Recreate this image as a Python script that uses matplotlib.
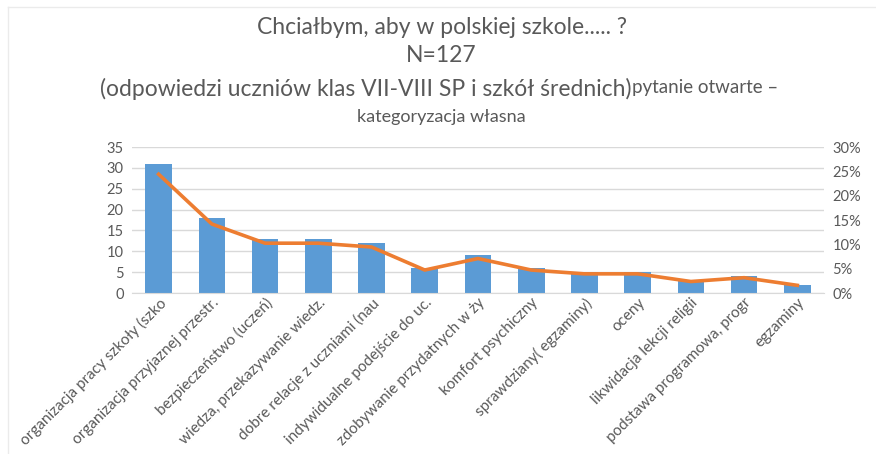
import matplotlib
matplotlib.use("Agg")
import matplotlib.pyplot as plt
from matplotlib.ticker import PercentFormatter

plt.rcParams['font.family'] = ['Lato', 'DejaVu Sans']

# data
categories = [
    "organizacja pracy szkoły (szko",
    "organizacja przyjaznej przestr.",
    "bezpieczeństwo (uczeń)",
    "wiedza, przekazywanie wiedz.",
    "dobre relacje z uczniami (nau",
    "indywidualne podejście do uc.",
    "zdobywanie przydatnych w ży",
    "komfort psychiczny",
    "sprawdziany( egzaminy)",
    "oceny",
    "likwidacja lekcji religii",
    "podstawa programowa, progr",
    "egzaminy",
]
counts = [31, 18, 13, 13, 12, 6, 9, 6, 5, 5, 3, 4, 2]
n_total = 127
shares = [c / n_total for c in counts]

txt = '#595959'
grid = '#D9D9D9'

fig = plt.figure(figsize=(8.76, 4.54), dpi=100)
ax = fig.add_axes([0.1507, 0.3546, 0.7899, 0.3216])
x = range(len(categories))
ax.bar(x, counts, width=0.5, color='#5B9BD5', zorder=2)
ax.set_ylim(0, 35)
ax.set_yticks(range(0, 36, 5))
ax.set_xlim(-0.5, len(categories) - 0.5)
ax.grid(axis='y', color=grid, linewidth=1, zorder=0)
for s in ['top', 'left', 'right']:
    ax.spines[s].set_visible(False)
ax.spines['bottom'].set_color(grid)
ax.tick_params(axis='both', length=0, colors=txt, labelsize=10.5)
ax.tick_params(axis='y', pad=6)
ax.tick_params(axis='x', pad=2)
ax.set_xticks(list(x))
ax.set_xticklabels(categories, rotation=45, ha='right', va='top',
                   rotation_mode='anchor', fontsize=11)

ax2 = ax.twinx()
ax2.plot(x, shares, color='#ED7D31', linewidth=2.6, zorder=3)
ax2.set_ylim(0, 0.30)
ax2.set_yticks([i / 100 for i in range(0, 31, 5)])
ax2.yaxis.set_major_formatter(PercentFormatter(1.0, decimals=0))
ax2.tick_params(axis='y', length=0, colors=txt, labelsize=10.5, pad=6)
for s in ['top', 'left', 'right', 'bottom']:
    ax2.spines[s].set_visible(False)

# title lines
fig.text(0.504, 1 - 27 / 454, "Chciałbym, aby w polskiej szkole..... ?",
         ha='center', va='center', fontsize=16.5, color=txt)
fig.text(0.504, 1 - 56 / 454, "N=127", ha='center', va='center',
         fontsize=16.5, color=txt)
t1 = fig.text(100 / 876, 1 - 96 / 454,
              "(odpowiedzi uczniów klas VII-VIII SP i szkół średnich)",
              ha='left', va='baseline', fontsize=16.5, color=txt)
ax.annotate("pytanie otwarte –", xy=(1, 0), xycoords=t1,
            xytext=(0, 3.2), textcoords='offset points',
            ha='left', va='bottom', fontsize=13.5, color=txt,
            annotation_clip=False)
fig.text(0.504, 1 - 117 / 454, "kategoryzacja własna", ha='center',
         va='center', fontsize=13, color=txt)

# faint chart border
fig.add_artist(plt.Line2D([8 / 876, 1], [1 - 7 / 454] * 2,
                          transform=fig.transFigure, color='#EBEBEB', lw=1))
fig.add_artist(plt.Line2D([8 / 876] * 2, [0, 1 - 7 / 454],
                          transform=fig.transFigure, color='#EBEBEB', lw=1))

fig.savefig('out.png', dpi=100, facecolor='white')
